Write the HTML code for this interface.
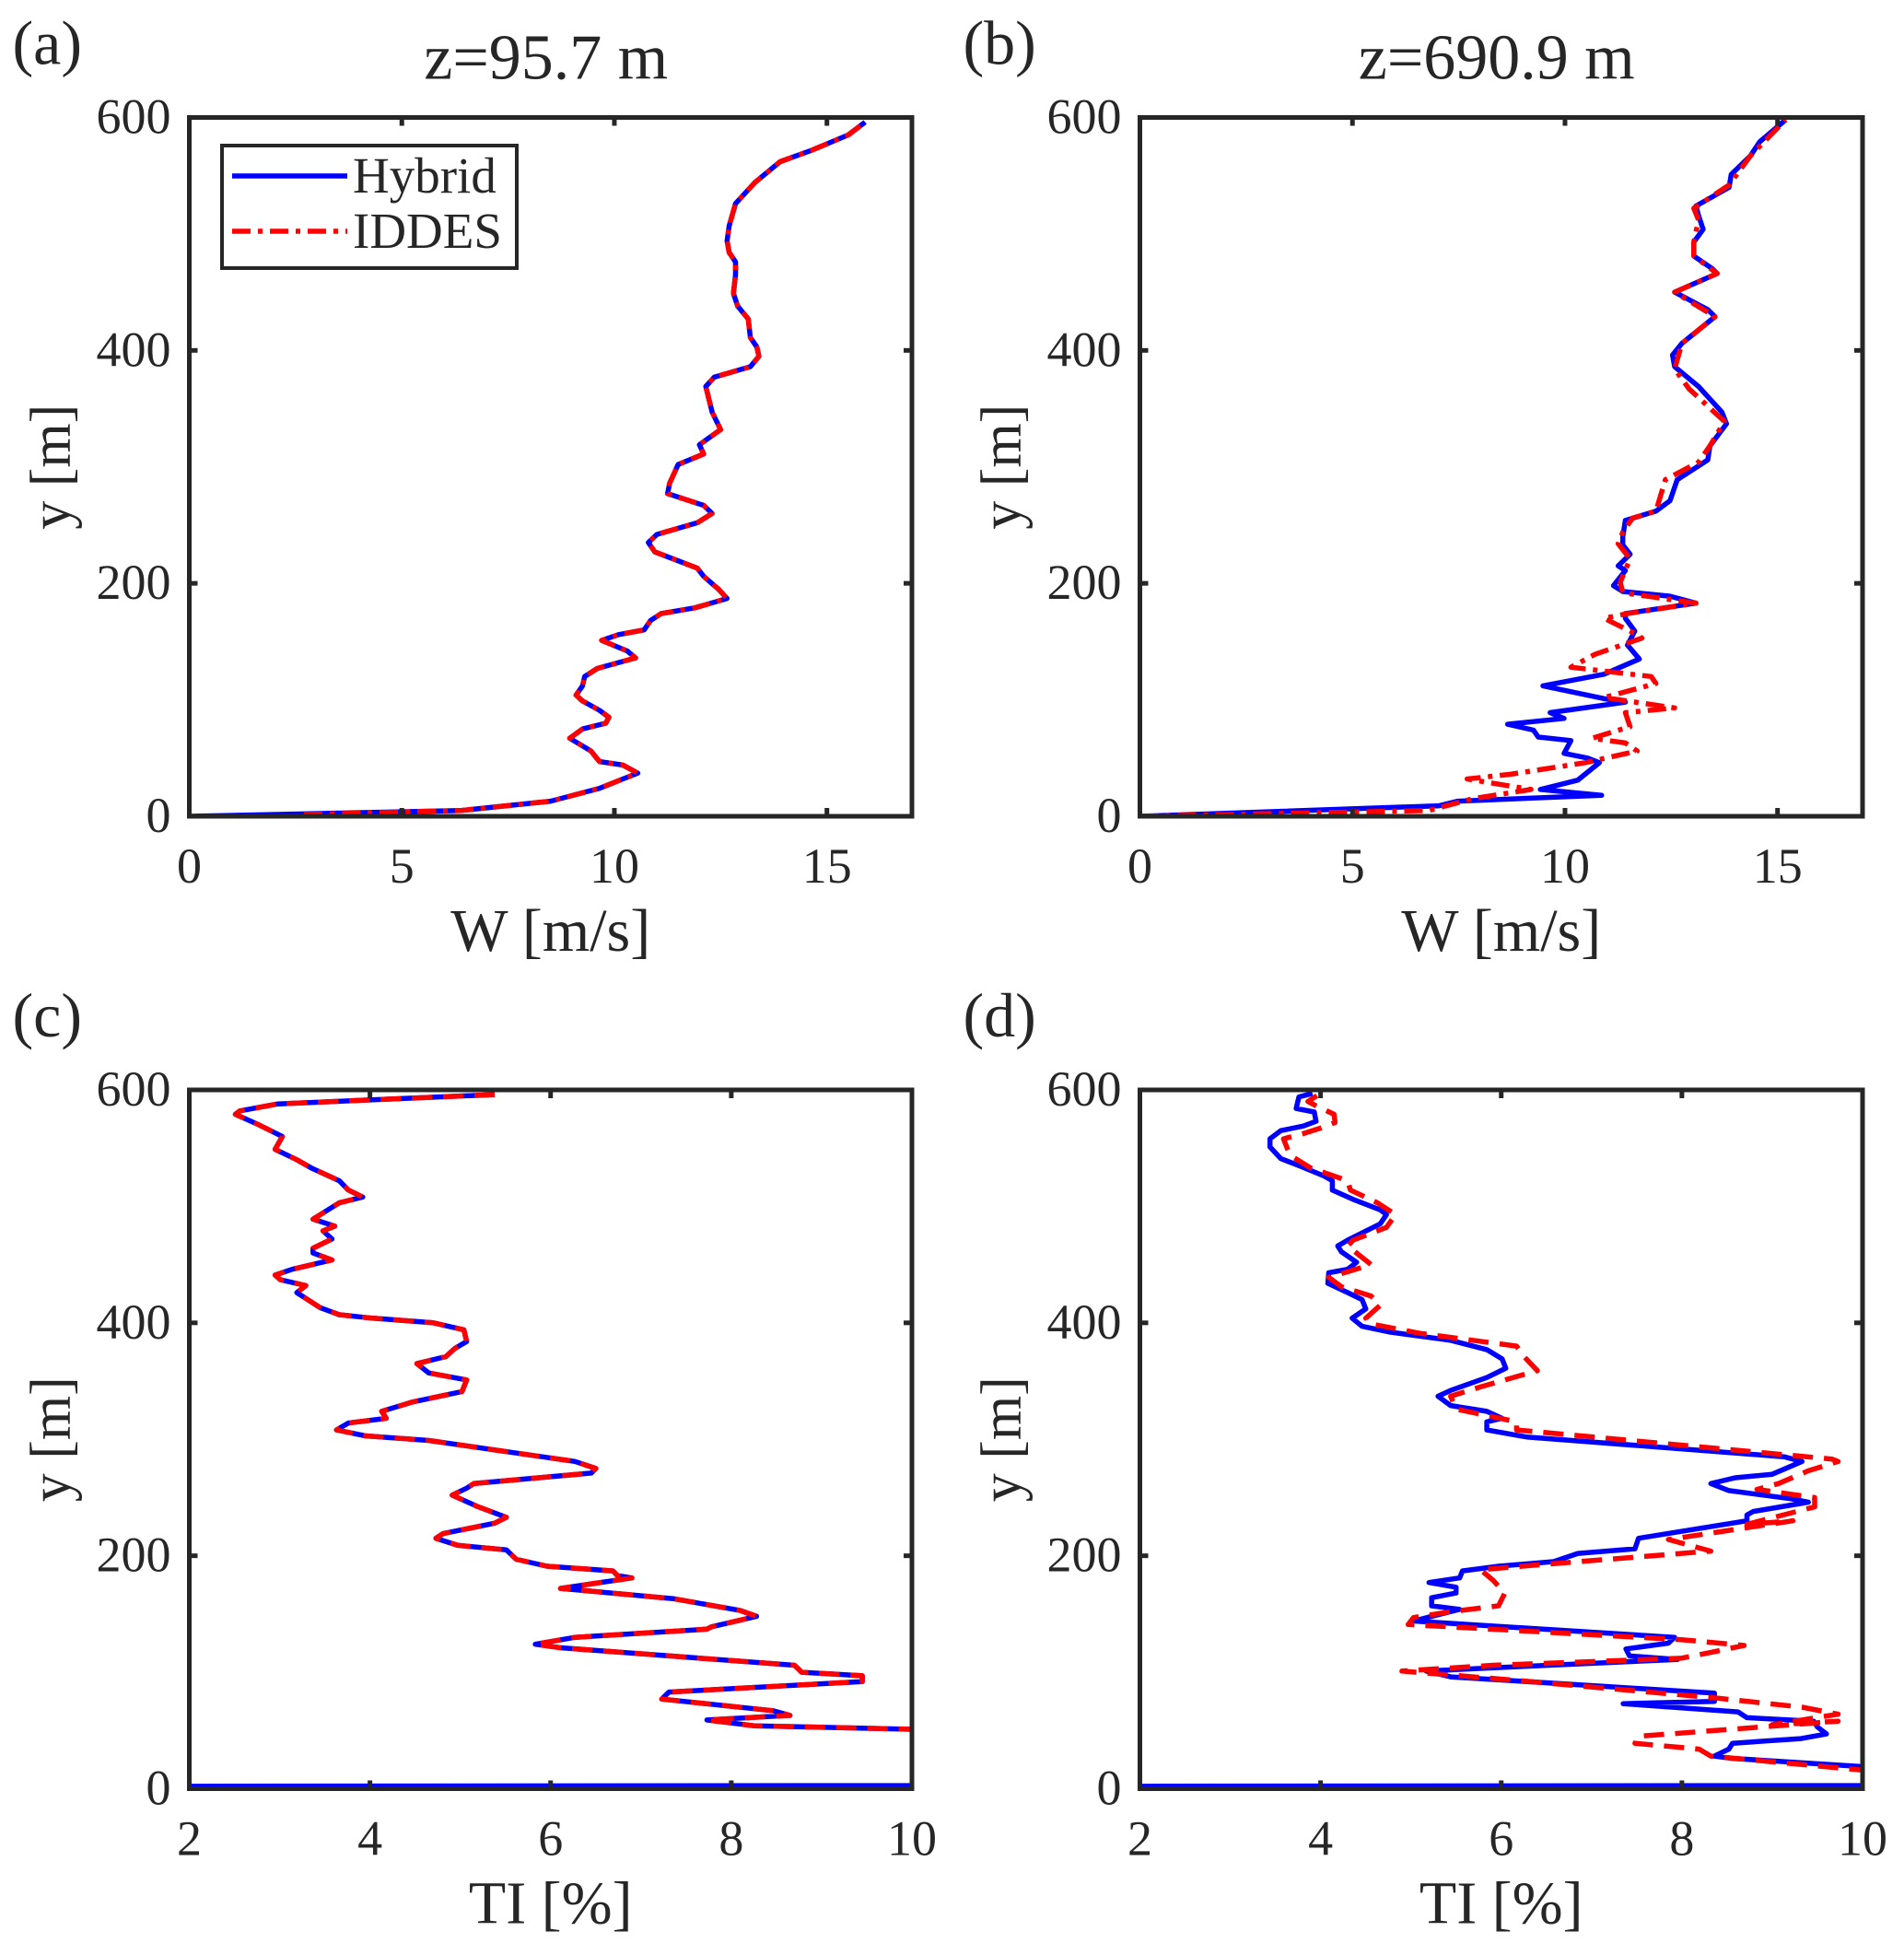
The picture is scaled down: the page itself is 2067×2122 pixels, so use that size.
<!DOCTYPE html>
<html><head><meta charset="utf-8"><style>
html,body{margin:0;padding:0;background:#fff;}
svg{display:block;}
text{font-family:"Liberation Serif","DejaVu Serif",serif;fill:#262626;}
</style></head>
<body>
<svg id="fig" width="2067" height="2122" viewBox="0 0 2067 2122" xmlns="http://www.w3.org/2000/svg"></svg>
<script>
// ---- data (value, y) ----
const xTicksW = [0, 5, 10, 15];
const xTicksTI = [2, 4, 6, 8, 10];
const yTicks = [0, 200, 400, 600];
const legendLabels = ["Hybrid", "IDDES"];
const titles = ["z=95.7 m", "z=690.9 m"];

const hybA_W = [0,6.4,8.5,9.65,10.2,10.55,10.2,9.65,9.45,8.95,9.25,9.8,9.87,9.65,9.25,9.1,9.25,9.3,9.6,10.5,10.3,9.7,10.1,10.7,10.85,11.1,11.9,12.65,12.45,12.1,11.95,10.95,10.8,11.0,11.95,12.3,12.1,11.25,11.3,11.5,12.1,12.0,12.5,12.3,12.15,12.35,13.2,13.4,13.35,13.2,13.15,12.9,12.8,12.85,12.85,12.7,12.65,12.7,12.85,13.3,13.9,14.65,15.5,15.9];
const hybA_y = [0,5,13,24,32,37,44,47,56,67,75,80,85,91,99,104,112,120,127,136,142,151,156,160,168,174,179,187,195,206,213,227,235,242,252,260,267,277,286,302,311,319,332,347,369,377,386,395,403,411,427,438,449,465,476,484,494,507,526,544,562,572,585,596];
const iddA_W = [2.7,6.4,8.5,9.65,10.2,10.55,10.2,9.65,9.45,8.95,9.25,9.8,9.87,9.65,9.25,9.1,9.25,9.3,9.6,10.5,10.3,9.7,10.1,10.7,10.85,11.1,11.9,12.65,12.45,12.1,11.95,10.95,10.8,11.0,11.95,12.3,12.1,11.25,11.3,11.5,12.1,12.0,12.5,12.3,12.15,12.35,13.2,13.4,13.35,13.2,13.15,12.9,12.8,12.85,12.85,12.7,12.65,12.7,12.85,13.3,13.9,14.65,15.5,15.9];
const iddA_y = [1.5,5,13,24,32,37,44,47,56,67,75,80,85,91,99,104,112,120,127,136,142,151,156,160,168,174,179,187,195,206,213,227,235,242,252,260,267,277,286,302,311,319,332,347,369,377,386,395,403,411,427,438,449,465,476,484,494,507,526,544,562,572,585,596];

const hybB_W = [0,7.04,7.48,10.86,9.42,10.3,10.81,10.53,9.98,10.14,9.37,9.26,8.65,9.98,9.65,11.42,10.92,9.48,10.92,11.75,11.47,11.64,11.42,11.42,13.08,12.47,11.36,11.14,11.42,11.25,11.53,11.36,11.36,11.42,12.14,12.47,12.64,13.36,13.41,13.8,13.69,13.14,12.58,12.53,12.75,13.53,13.36,12.58,13.58,13.47,13.03,13.03,13.25,13.14,13.08,13.86,13.91,14.36,14.58,15.19];
const hybB_y = [0,9,13,18,23,31,46,50,54,65,68,74,79,84,89,98,101,112,122,135,147,159,170,174,183,189,193,198,211,215,225,233,240,254,262,271,289,306,318,337,347,369,386,396,406,429,435,450,466,470,481,493,504,516,524,540,551,567,579,598];
const iddB_W = [0,6.8,7.82,9.2,7.7,8.7,10.48,11.7,11.42,10.64,11.53,11.42,12.58,10.92,12.14,12.03,10.14,10.7,11.81,11.7,10.92,11.47,13.08,11.36,11.3,11.53,11.25,11.36,11.59,12.14,12.36,13.14,13.41,13.75,12.92,12.58,12.75,13.53,12.58,13.58,13.03,13.03,13.14,13.03,13.86,14.36,15.19];
const iddB_y = [0,5,15,23,32,36,46,56,63,67,77,89,93,102,114,120,128,139,153,156,170,174,183,192,201,221,234,244,256,262,289,304,318,339,367,384,406,429,450,466,481,493,512,522,542,567,598];

const hybC_TI = [5.38,2.98,2.56,2.51,2.77,3.03,2.95,3.19,3.35,3.66,3.76,3.92,3.66,3.37,3.61,3.48,3.58,3.37,3.37,3.58,3.14,2.95,3.01,3.29,3.19,3.45,3.66,4.03,4.70,5.04,5.07,4.94,4.84,4.52,4.65,5.07,5.02,4.47,4.13,4.18,3.76,3.63,3.95,4.65,6.27,6.5,6.45,5.15,5.07,4.91,5.2,5.51,5.38,4.81,4.73,4.97,5.51,5.62,5.96,6.69,6.74,6.9,6.11,7.37,8.10,8.28,7.78,7.73,6.27,5.83,6.11,8.70,8.78,9.45,9.45,7.31,7.23,8.46,8.65,7.73,8.25,10.0,14,0];
const hybC_y = [596,588,582,579,570,560,549,540,533,522,514,508,503,489,483,479,472,464,460,454,446,441,437,432,426,413,407,404,400,394,384,378,371,365,357,351,341,332,324,318,314,308,303,299,281,275,271,262,258,252,242,233,228,219,215,209,205,197,191,187,183,181,172,163,153,148,139,137,130,124,121,106,100,97,92,83,77,67,63,59,54,51,3,2];
const iddC_TI = [5.38,2.98,2.56,2.51,2.77,3.03,2.95,3.19,3.35,3.66,3.76,3.92,3.66,3.37,3.61,3.48,3.58,3.37,3.37,3.58,3.14,2.95,3.01,3.29,3.19,3.45,3.66,4.03,4.70,5.04,5.07,4.94,4.84,4.52,4.65,5.07,5.02,4.47,4.13,4.18,3.76,3.63,3.95,4.65,6.27,6.5,6.45,5.15,5.07,4.91,5.2,5.51,5.38,4.81,4.73,4.97,5.51,5.62,5.96,6.69,6.74,6.9,6.11,7.37,8.10,8.28,7.78,7.73,6.27,5.83,6.11,8.70,8.78,9.45,9.45,7.31,7.23,8.46,8.65,7.73,8.25,10.0];
const iddC_y = [596,588,582,579,570,560,549,540,533,522,514,508,503,489,483,479,472,464,460,454,446,441,437,432,426,413,407,404,400,394,384,378,371,365,357,351,341,332,324,318,314,308,303,299,281,275,271,262,258,252,242,233,228,219,215,209,205,197,191,187,183,181,172,163,153,148,139,137,130,124,121,106,100,97,92,83,77,67,63,59,54,51];

const hybD_TI = [3.91,3.76,3.73,3.93,3.95,3.81,3.56,3.44,3.44,3.56,3.76,4.04,4.13,4.13,4.36,4.66,4.73,4.66,4.30,4.19,4.23,4.40,4.30,4.09,4.08,4.30,4.46,4.50,4.35,4.46,4.77,5.44,5.84,6.01,6.05,5.84,5.44,5.30,5.44,5.84,6.01,5.84,5.84,6.28,9.13,9.33,9.00,8.59,8.32,8.52,9.20,9.40,8.79,8.72,8.72,7.52,7.48,6.85,6.58,5.97,5.57,5.54,5.20,5.50,5.50,5.23,5.23,5.54,5.23,5.03,7.92,7.85,7.38,7.42,7.95,5.97,5.17,5.44,8.36,8.36,7.35,8.62,8.72,9.46,9.50,9.60,9.32,8.56,8.52,8.36,8.56,10.0,11.3,14,0];
const hybD_y = [597,594,584,581,573,569,565,558,551,541,535,526,522,514,506,497,493,485,471,466,461,452,446,443,434,426,420,412,404,397,392,385,377,369,361,353,342,337,329,324,318,315,308,302,285,281,270,267,262,256,249,246,238,235,230,215,206,202,195,191,187,181,177,173,168,164,157,154,148,144,130,125,120,114,111,104,101,96,82,75,73,66,61,58,53,47,43,39,34,28,26,19,18,3,2];
const iddD_TI = [3.96,3.86,3.96,4.15,4.16,4.03,3.83,3.59,3.66,3.89,4.30,4.33,4.63,4.83,4.73,4.36,4.30,4.56,4.09,4.23,4.56,4.66,4.50,4.56,5.10,6.17,6.24,6.40,5.77,5.44,5.50,6.17,6.17,9.66,9.73,9.40,9.07,8.83,9.47,9.47,8.72,9.23,7.85,8.32,6.38,5.77,5.91,6.04,5.97,5.44,5.03,4.97,7.99,8.69,8.32,7.99,5.91,4.90,6.17,8.36,9.33,9.73,9.0,9.73,7.52,7.48,8.19,8.32,10.0,12];
const iddD_y = [595,590,586,579,572,568,563,558,544,533,522,514,503,493,482,471,466,450,439,431,423,415,404,399,391,380,372,359,345,337,326,315,308,283,281,273,262,257,250,242,227,230,214,204,192,188,179,168,157,152,147,141,128,123,117,112,106,101,93,78,70,64,55,58,45,39,34,28,16,14];

// ---- layout ----
const NS = "http://www.w3.org/2000/svg";
const svg = document.getElementById("fig");
function mk(tag, attrs, parent){const e=document.createElementNS(NS,tag);for(const k in attrs)e.setAttribute(k,attrs[k]);(parent||svg).appendChild(e);return e;}

const panels = [
  {id:"a", x0:205.5, y0:127.5, xmin:0, xmax:17, xt:xTicksW, xlab:"W [m/s]", title:titles[0], hx:hybA_W, hy:hybA_y, ix:iddA_W, iy:iddA_y, dash:"20,8,5,8", legend:true},
  {id:"b", x0:1237.5, y0:127.5, xmin:0, xmax:17, xt:xTicksW, xlab:"W [m/s]", title:titles[1], hx:hybB_W, hy:hybB_y, ix:iddB_W, iy:iddB_y, dash:"20,8,5,8"},
  {id:"c", x0:205.5, y0:1183, xmin:2, xmax:10, xt:xTicksTI, xlab:"TI [%]", hx:hybC_TI, hy:hybC_y, ix:iddC_TI, iy:iddC_y, dash:"22,12"},
  {id:"d", x0:1237.5, y0:1183, xmin:2, xmax:10, xt:xTicksTI, xlab:"TI [%]", hx:hybD_TI, hy:hybD_y, ix:iddD_TI, iy:iddD_y, dash:"22,12"}
];
const W = 784.5, H = 758.5;

panels.forEach(p=>{
  const g = mk("g",{});
  
  
  const sx = v => p.x0 + (v - p.xmin)/(p.xmax - p.xmin)*W;
  const sy = v => p.y0 + H - v/600*H;
  const clipId = "clip"+p.id;
  const cp = mk("clipPath",{id:clipId},g);
  mk("rect",{x:p.x0,y:p.y0,width:W,height:H},cp);

  const lab = mk("text",{x:p.x0-192,y:p.y0-58,"font-size":68},g);
  lab.textContent = "("+p.id+")";
  
  
  if(p.title){
    const t = mk("text",{x:p.x0+W/2-5,y:p.y0-42,"font-size":70,"text-anchor":"middle",fill:"#000"},g);
    t.textContent = p.title;
    
    
  }
  const curves = mk("g",{"clip-path":"url(#"+clipId+")"},g);
  function pts(xs,ys){return xs.map((v,i)=>sx(v).toFixed(1)+","+sy(ys[i]).toFixed(1)).join(" ");}
  const hl = mk("polyline",{points:pts(p.hx,p.hy),fill:"none",stroke:"#0000ff","stroke-width":5.5,"stroke-linejoin":"round"},curves);
  
  
  const il = mk("polyline",{points:pts(p.ix,p.iy),fill:"none",stroke:"#ff0000","stroke-width":5.5,"stroke-dasharray":p.dash,"stroke-linejoin":"round"},curves);
  
  

  // ticks
  p.xt.forEach(v=>{
    const x = sx(v);
    mk("line",{x1:x,y1:p.y0+H,x2:x,y2:p.y0+H-9,stroke:"#262626","stroke-width":5},g);
    mk("line",{x1:x,y1:p.y0,x2:x,y2:p.y0+9,stroke:"#262626","stroke-width":5},g);
    const t = mk("text",{x:x,y:p.y0+H+72,"font-size":54,"text-anchor":"middle"},g);
    t.textContent = String(v);
    
    
  });
  yTicks.forEach(v=>{
    const y = sy(v);
    mk("line",{x1:p.x0,y1:y,x2:p.x0+9,y2:y,stroke:"#262626","stroke-width":5},g);
    mk("line",{x1:p.x0+W,y1:y,x2:p.x0+W-9,y2:y,stroke:"#262626","stroke-width":5},g);
    const t = mk("text",{x:p.x0-20,y:y+17,"font-size":54,"text-anchor":"end"},g);
    t.textContent = String(v);
    
    
  });
  const ax = mk("rect",{x:p.x0,y:p.y0,width:W,height:H,fill:"none",stroke:"#262626","stroke-width":5},g);
  
  

  const xl = mk("text",{x:p.x0+W/2,y:p.y0+H+146,"font-size":66,"text-anchor":"middle"},g);
  xl.textContent = p.xlab;
  
  
  const yl = mk("text",{x:0,y:0,"font-size":62,"text-anchor":"middle",transform:"translate("+(p.x0-130)+","+(p.y0+H/2)+") rotate(-90)"},g);
  yl.textContent = "y [m]";
  
  

  if(p.legend){
    const lg = mk("g",{},g);
    
    
    mk("rect",{x:241,y:158,width:320,height:133,fill:"#fff",stroke:"#262626","stroke-width":4},lg);
    const ly=[191,251];
    [["#0000ff",null],["#ff0000",p.dash]].forEach((s,i)=>{
      const a={x1:252,y1:ly[i],x2:377,y2:ly[i],stroke:s[0],"stroke-width":5.5};
      if(s[1]) a["stroke-dasharray"]=s[1];
      const ln = mk("line",a,lg);
      
      
      const tx = mk("text",{x:383,y:ly[i]+18,"font-size":55,fill:"#000"},lg);
      tx.textContent = legendLabels[i];
      
      
    });
  }
});
</script>
</body></html>
